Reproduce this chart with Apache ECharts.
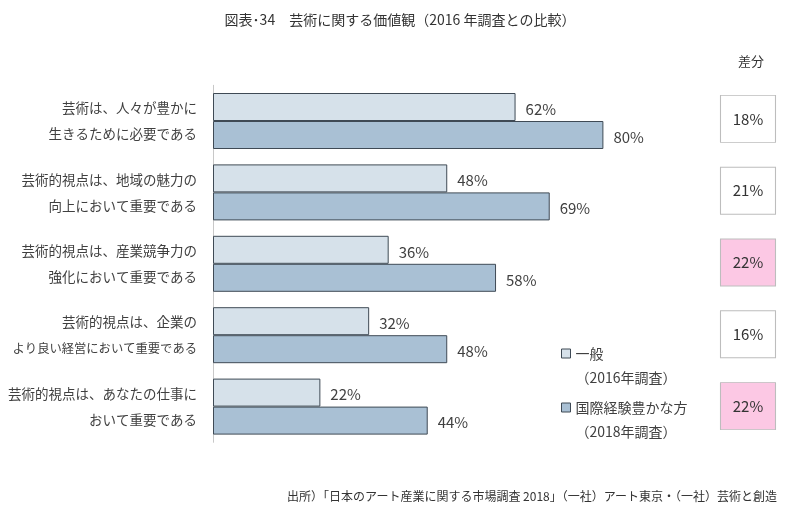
<!DOCTYPE html>
<html>
<head>
<meta charset="utf-8">
<script src="https://cdn.jsdelivr.net/npm/echarts@6/dist/echarts.min.js"></script>
<style>html,body{margin:0;padding:0;background:#fff;}#c{width:800px;height:506px;}</style>
</head>
<body>
<div id="c"></div>
<script>
const categories = [
  '芸術は、人々が豊かに\n生きるために必要である',
  '芸術的視点は、地域の魅力の\n向上において重要である',
  '芸術的視点は、産業競争力の\n強化において重要である',
  '芸術的視点は、企業の\nより良い経営において重要である',
  '芸術的視点は、あなたの仕事に\nおいて重要である'
];
const seriesNames = ['一般', '国際経験豊かな方'];
const seriesYears = ['（2016年調査）', '（2018年調査）'];
const general2016 = [62, 48, 36, 32, 22];
const intl2018 = [80, 69, 58, 48, 44];
const diffs = [18, 21, 22, 16, 22];
const highlighted = [false, false, true, false, true];

const FONT = '"Noto Sans CJK JP", "Noto Sans", sans-serif';
const chart = echarts.init(document.getElementById('c'));

const barLabel = {
  show: true, position: 'right', distance: 10, offset: [0, 2],
  formatter: p => p.value + '%', color: '#404040', fontSize: 15, fontFamily: FONT
};

const legendCommon = {
  orient: 'vertical', left: 561, padding: 0, itemWidth: 9, itemHeight: 9,
  icon: 'rect',
  formatter: name => '\n' + name + '\n' + seriesYears[seriesNames.indexOf(name)],
  textStyle: { fontSize: 14, fontFamily: FONT, color: '#404040', lineHeight: 24 },
  itemStyle: { borderColor: '#3f4a55', borderWidth: 1 }
};

// long lines get a slightly narrower style so they fit like the original's proportional font
const catLabelFormatter = v => v.split('\n')
  .map(line => line.length > 14 ? '{n|' + line + '}' : '{w|' + line + '}')
  .join('\n');

chart.setOption({
  animation: false,
  backgroundColor: '#fff',
  title: [
    { text: '図表･34　芸術に関する価値観（2016 年調査との比較）', left: 'center', top: 8,
      textStyle: { fontSize: 14, fontWeight: 'normal', color: '#333', fontFamily: FONT } },
    { text: '差分', left: 733, top: 50,
      textStyle: { fontSize: 13, fontWeight: 'normal', color: '#333', fontFamily: FONT } },
    { text: '出所）「日本のアート産業に関する市場調査 2018」（一社）アート東京・（一社）芸術と創造', right: 18, top: 485,
      textStyle: { fontSize: 12, fontWeight: 'normal', color: '#333', fontFamily: FONT } }
  ],
  legend: [
    Object.assign({ data: [seriesNames[0]], top: 317.5 }, legendCommon),
    Object.assign({ data: [seriesNames[1]], top: 371.5 }, legendCommon)
  ],
  grid: [
    { left: 213, width: 488, top: 85.3, height: 357, outerBoundsMode: 'none', containLabel: false },
    { left: 720, width: 56, top: 83, height: 359, outerBoundsMode: 'none', containLabel: false }
  ],
  xAxis: [
    { gridIndex: 0, type: 'value', min: 0, max: 100, show: false },
    { gridIndex: 1, type: 'value', min: 0, max: 1, show: false }
  ],
  yAxis: [
    { gridIndex: 0, type: 'category', data: categories, inverse: true,
      axisLine: { show: true, lineStyle: { color: '#c8c8c8', width: 1 } },
      axisTick: { show: false },
      axisLabel: { margin: 16, fontSize: 13.5, lineHeight: 26, color: '#404040', fontFamily: FONT, align: 'right',
        formatter: catLabelFormatter,
        rich: {
          w: { fontSize: 13.5, lineHeight: 26, color: '#404040', fontFamily: FONT },
          n: { fontSize: 12.3, lineHeight: 26, color: '#404040', fontFamily: FONT }
        } } },
    { gridIndex: 1, type: 'category', data: categories, inverse: true, show: false }
  ],
  series: [
    { name: seriesNames[0], type: 'bar', xAxisIndex: 0, yAxisIndex: 0, data: general2016,
      barWidth: 28, barGap: '0%',
      itemStyle: { color: '#d6e1ea', borderColor: '#3f4a55', borderWidth: 1 },
      label: barLabel },
    { name: seriesNames[1], type: 'bar', xAxisIndex: 0, yAxisIndex: 0, data: intl2018,
      barWidth: 28, barGap: '0%',
      itemStyle: { color: '#a9c0d4', borderColor: '#3f4a55', borderWidth: 1 },
      label: barLabel },
    { name: '差分', type: 'scatter', xAxisIndex: 1, yAxisIndex: 1,
      symbol: 'rect', symbolSize: [55, 47],
      data: diffs.map((d, i) => ({
        value: [0.5, categories[i], d],
        itemStyle: { color: highlighted[i] ? '#fcc8e4' : '#ffffff' }
      })),
      itemStyle: { borderColor: '#bdbdbd', borderWidth: 1, opacity: 1 },
      label: { show: true, position: 'inside', formatter: p => p.value[2] + '%',
        color: '#333', fontSize: 15, fontFamily: FONT },
      emphasis: { disabled: true }
    }
  ]
});
</script>
</body>
</html>
